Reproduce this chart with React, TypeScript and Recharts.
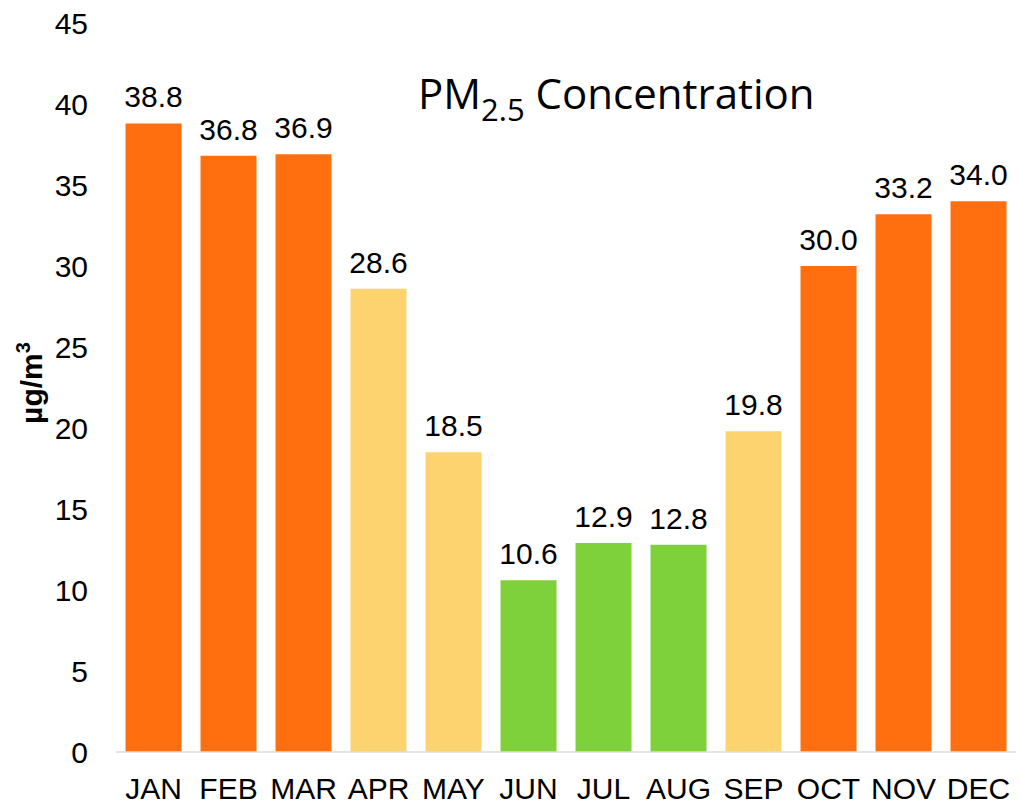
import { Bar, BarChart, Cell, LabelList, XAxis, YAxis } from "recharts";

const months = ["JAN", "FEB", "MAR", "APR", "MAY", "JUN", "JUL", "AUG", "SEP", "OCT", "NOV", "DEC"];
const pm25 = [38.8, 36.8, 36.9, 28.6, 18.5, 10.6, 12.9, 12.8, 19.8, 30.0, 33.2, 34.0];
const yTicks = [0, 5, 10, 15, 20, 25, 30, 35, 40, 45];

const ORANGE = "#FF6F10";
const YELLOW = "#FDD36F";
const GREEN = "#7FD13B";
const barColors = [
  ORANGE, ORANGE, ORANGE, YELLOW, YELLOW, GREEN,
  GREEN, GREEN, YELLOW, ORANGE, ORANGE, ORANGE,
];

const data = months.map((month, i) => ({ month, value: pm25[i] }));

const FONT = "'Liberation Sans', Arial, sans-serif";

export default function App() {
  return (
    <div style={{ position: "absolute", left: 0, top: 0, width: 1021, height: 806, background: "#fff" }}>
      <BarChart
        width={1021}
        height={806}
        data={data}
        margin={{ top: 23, right: 5, left: 0, bottom: 0 }}
        barCategoryGap="12.7%"
      >
        <XAxis
          dataKey="month"
          height={54}
          tickLine={false}
          tickSize={0}
          tickMargin={26}
          axisLine={{ stroke: "#DADDE4", strokeWidth: 1.5 }}
          tick={{ fill: "#000", fontSize: 30, fontFamily: FONT }}
          interval={0}
        />
        <YAxis
          width={116}
          domain={[0, 45]}
          ticks={yTicks}
          axisLine={false}
          tickLine={false}
          tickSize={0}
          tickMargin={28}
          tick={{ fill: "#000", fontSize: 30, fontFamily: FONT }}
        />
        <Bar dataKey="value" isAnimationActive={false}>
          {data.map((d, i) => (
            <Cell key={d.month} fill={barColors[i]} />
          ))}
          <LabelList
            dataKey="value"
            position="top"
            offset={16}
            formatter={(v: any) => Number(v).toFixed(1)}
            style={{ fill: "#000", fontSize: 30, fontFamily: FONT }}
          />
        </Bar>
        <text x={418} y={109} fontFamily="'Open Sans', sans-serif" fontSize={42} fill="#000">
          PM
          <tspan fontSize={31} dy={12}>2.5</tspan>
          <tspan dy={-12}> Concentration</tspan>
        </text>
        <text
          transform="translate(42, 383) rotate(-90)"
          textAnchor="middle"
          fontFamily={FONT}
          fontWeight="bold"
          fontSize={30}
          fill="#000"
        >
          µg/m
          <tspan fontSize={20} dy={-12}>3</tspan>
        </text>
      </BarChart>
    </div>
  );
}
